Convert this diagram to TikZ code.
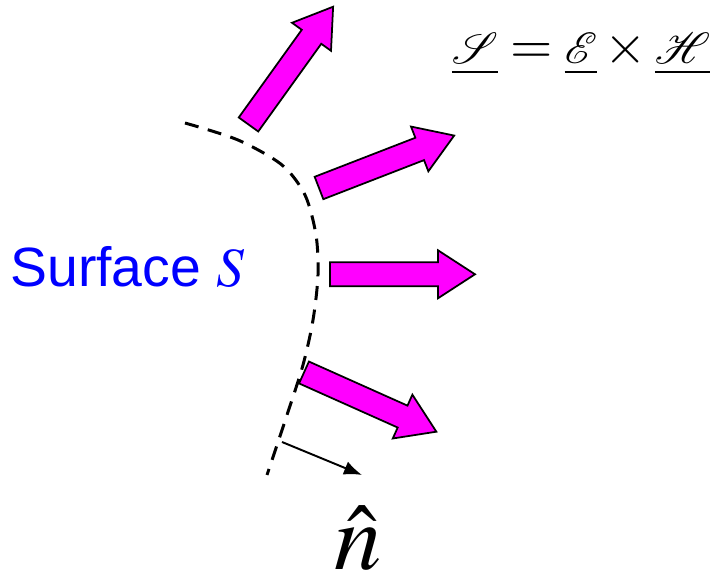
\documentclass[tikz,border=0pt]{standalone}
\usepackage{mathptmx}
\usepackage{mathrsfs}
\usepackage{fontspec}
\setmainfont{Liberation Sans}
\usetikzlibrary{arrows.meta}

\definecolor{poynmag}{rgb}{1,0,1}

\begin{document}
\begin{tikzpicture}[x=0.02cm,y=0.02cm]

\def\arrlen{145}
\def\headlen{37}
\def\headw{24}
\def\shaftw{12}

\tikzset{
    poynting/.style={
        draw=black,
        line width=1pt,
        fill=poynmag
    },
    surfline/.style={
        dash pattern=on 8pt off 5.5pt,
        line width=1.7pt
    }
}

\useasboundingbox (0,0) rectangle (714,580);

% Power flow arrows
\foreach \x/\y/\ang in {248.5/455.5/54.3, 319/392/21.2, 330/305.7/0, 304/207.5/-24.1}{
    \begin{scope}[shift={(\x,\y)}, rotate=\ang]
        \draw[poynting] (0,-\shaftw) -- ({\arrlen-\headlen},-\shaftw)
            -- ({\arrlen-\headlen},-\headw) -- (\arrlen,0)
            -- ({\arrlen-\headlen},\headw) -- ({\arrlen-\headlen},\shaftw)
            -- (0,\shaftw) -- cycle;
    \end{scope}
}

% Surface
\draw[surfline] plot[smooth] coordinates {(185,457) (238,440) (282,415) (305,385)
    (316,345) (318,305) (313,260) (303,215) (287,165) (267,105)};

% Normal vector
\coordinate (ntail) at (282,138);
\coordinate (nhead) at (362,105);
\draw[line width=1.1pt, -{Latex[length=0.36cm,width=0.28cm]}] (ntail) -- (nhead);

% Labels
\node[anchor=base, text=blue, font=\fontsize{31.5}{38}\selectfont] (surf) at (127.5,293)
    {Surface $S$};
\node[anchor=base, font=\fontsize{31}{38}\selectfont] (poyn) at (581,516)
    {$\underline{\mathscr{S}} = \underline{\mathscr{E}} \times \underline{\mathscr{H}}$};
\node[anchor=base, inner sep=0pt, font=\fontsize{54}{60}\selectfont] (nlab) at (358,10) {$\hat{n}$};
\end{tikzpicture}
\end{document}
